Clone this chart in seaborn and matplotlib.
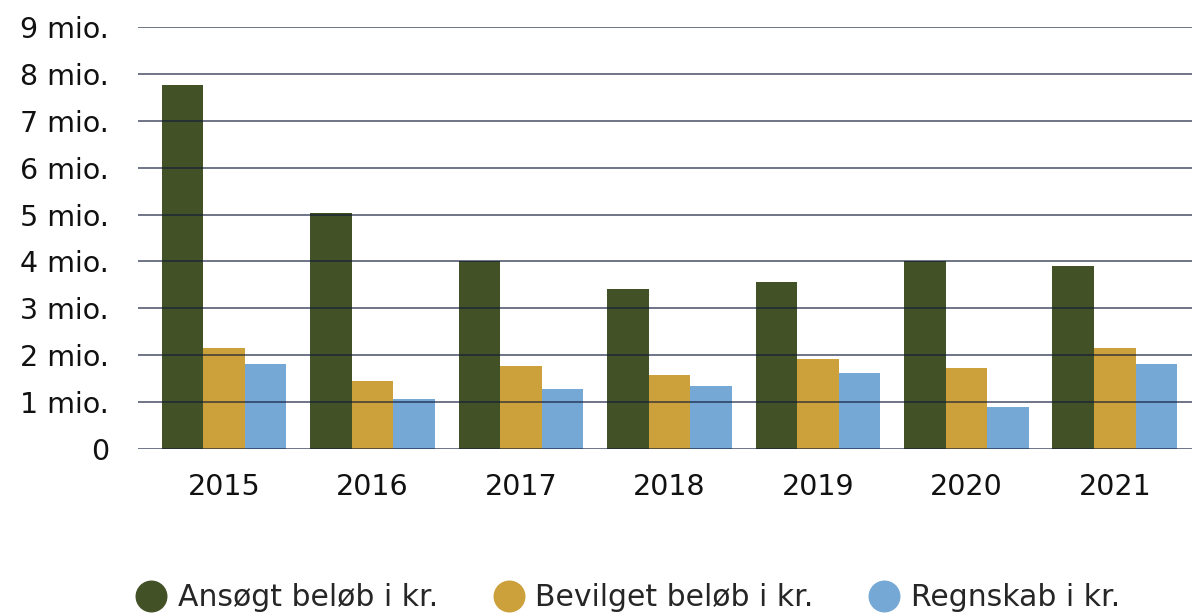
import matplotlib.pyplot as plt
import seaborn as sns
import pandas as pd
from matplotlib.lines import Line2D

years = ["2015", "2016", "2017", "2018", "2019", "2020", "2021"]
ansoegt = [7.76, 5.03, 4.01, 3.41, 3.56, 4.01, 3.90]
bevilget = [2.15, 1.45, 1.77, 1.58, 1.92, 1.73, 2.15]
regnskab = [1.81, 1.07, 1.28, 1.34, 1.62, 0.90, 1.81]
series = ["Ansøgt beløb i kr.", "Bevilget beløb i kr.", "Regnskab i kr."]
colors = ["#435127", "#cca03a", "#76a8d6"]
ytick_labels = ["0", "1 mio.", "2 mio.", "3 mio.", "4 mio.", "5 mio.",
                "6 mio.", "7 mio.", "8 mio.", "9 mio."]

data = pd.DataFrame({
    "year": years * 3,
    "value": ansoegt + bevilget + regnskab,
    "serie": [s for s in series for _ in years],
})

sns.set_style("white")
plt.rcParams["font.family"] = ["DejaVu Sans"]

fig = plt.figure(figsize=(11.92, 6.16), dpi=100)
ax = fig.add_axes([138 / 1192, 1 - 449 / 616, 1 - 138 / 1192, (449 - 27) / 616])

sns.barplot(data=data, x="year", y="value", hue="serie", palette=colors,
            width=0.84, gap=0, saturation=1, linewidth=0, ax=ax, legend=False)

ax.set_ylim(0, 9)
ax.set_xlim(-0.58, 6.52)
ax.set_yticks(range(10))
ax.set_yticklabels(ytick_labels)
ax.set_xlabel("")
ax.set_ylabel("")
ax.set_axisbelow(False)
ax.yaxis.grid(True, color="#101a38", alpha=0.7, linewidth=1.2)
ax.xaxis.grid(False)
for s in ax.spines.values():
    s.set_visible(False)
ax.tick_params(axis="both", length=0, labelsize=20.5, colors="#111111")
ax.tick_params(axis="y", pad=21)
ax.tick_params(axis="x", pad=17)

handles = [Line2D([0], [0], marker="o", linestyle="", markersize=22,
                  markerfacecolor=c, markeredgecolor=c) for c in colors]
fig.legend(handles, series, loc="center", bbox_to_anchor=(0.527, 1 - 598 / 616),
           ncol=3, frameon=False, handletextpad=0.4, handlelength=1.0,
           columnspacing=1.85, prop={"size": 21.5})

fig.savefig("out.png", dpi=100)
